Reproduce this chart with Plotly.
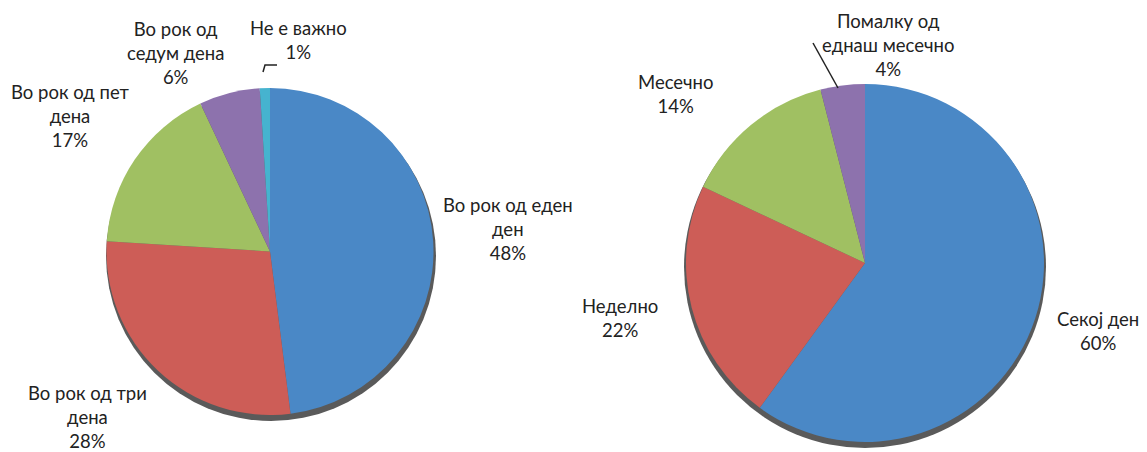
import plotly.graph_objects as go

# page offset (browser body margin) compensation
OFF = 8
W, H = 1147 - OFF, 452 - OFF

# Left pie data
left_categories = ["Во рок од еден ден", "Во рок од три дена", "Во рок од пет дена",
                   "Во рок од седум дена", "Не е важно"]
left_wrapped = ["Во рок од еден<br>ден", "Во рок од три<br>дена", "Во рок од пет<br>дена",
                "Во рок од<br>седум дена", "Не е важно"]
left_values = [48, 28, 17, 6, 1]

# Right pie data
right_categories = ["Секој ден", "Неделно", "Месечно", "Помалку од еднаш месечно"]
right_wrapped = ["Секој ден", "Неделно", "Месечно", "Помалку од<br>еднаш месечно"]
right_values = [60, 22, 14, 4]

left_colors = ["#4a88c6", "#cd5d57", "#a0c062", "#8d72ad", "#46b3cf"]
right_colors = ["#4a88c6", "#cd5d57", "#a0c062", "#8d72ad"]


def fx(px):
    return (px - OFF) / W


def fy(py):
    return 1 - (py - OFF) / H


def px_dom(x0, x1, y0, y1):
    return dict(x=[fx(x0), fx(x1)], y=[fy(y1), fy(y0)])


fig = go.Figure()
# subtle 3D-like shadows
fig.add_trace(go.Pie(values=[1], marker=dict(colors=["#5a5a5a"]), textinfo="none",
                     hoverinfo="skip", showlegend=False, domain=px_dom(105, 437, 91, 421)))
fig.add_trace(go.Pie(values=[1], marker=dict(colors=["#5a5a5a"]), textinfo="none",
                     hoverinfo="skip", showlegend=False, domain=px_dom(681, 1049, 86, 448)))

fig.add_trace(go.Pie(labels=left_categories, values=left_values, sort=False,
                     direction="clockwise", rotation=0, textinfo="none",
                     marker=dict(colors=left_colors, line=dict(width=0)),
                     domain=px_dom(105, 435, 88, 415), showlegend=False))
fig.add_trace(go.Pie(labels=right_categories, values=right_values, sort=False,
                     direction="clockwise", rotation=0, textinfo="none",
                     marker=dict(colors=right_colors, line=dict(width=0)),
                     domain=px_dom(682, 1048, 84, 442), showlegend=False))

# label centers (page px)
left_pos = [(508, 229), (87, 417), (70, 116), (175, 53), (298, 40)]
right_pos = [(1098, 331), (620, 318), (676, 94), (888, 45)]

annotations = []
for txt, v, (x, y) in list(zip(left_wrapped, left_values, left_pos)) + \
        list(zip(right_wrapped, right_values, right_pos)):
    annotations.append(dict(x=fx(x), y=fy(y), xref="paper", yref="paper",
                            text=f"{txt}<br>{v}%", showarrow=False,
                            font=dict(family="Lato, Open Sans, sans-serif", size=18.5, color="#222222"),
                            align="center", xanchor="center", yanchor="middle"))

shapes = [
    dict(type="path", xref="paper", yref="paper",
         path=f"M {fx(263)},{fy(72)} L {fx(265)},{fy(65)} L {fx(277)},{fy(65)}",
         line=dict(color="#222222", width=1.5)),
    dict(type="line", xref="paper", yref="paper",
         x0=fx(813), y0=fy(43), x1=fx(838), y1=fy(88),
         line=dict(color="#222222", width=1.5)),
]

fig.update_layout(width=W, height=H, margin=dict(l=0, r=0, t=0, b=0),
                  paper_bgcolor="white", plot_bgcolor="white",
                  annotations=annotations, shapes=shapes)

fig.write_html("out.html")
